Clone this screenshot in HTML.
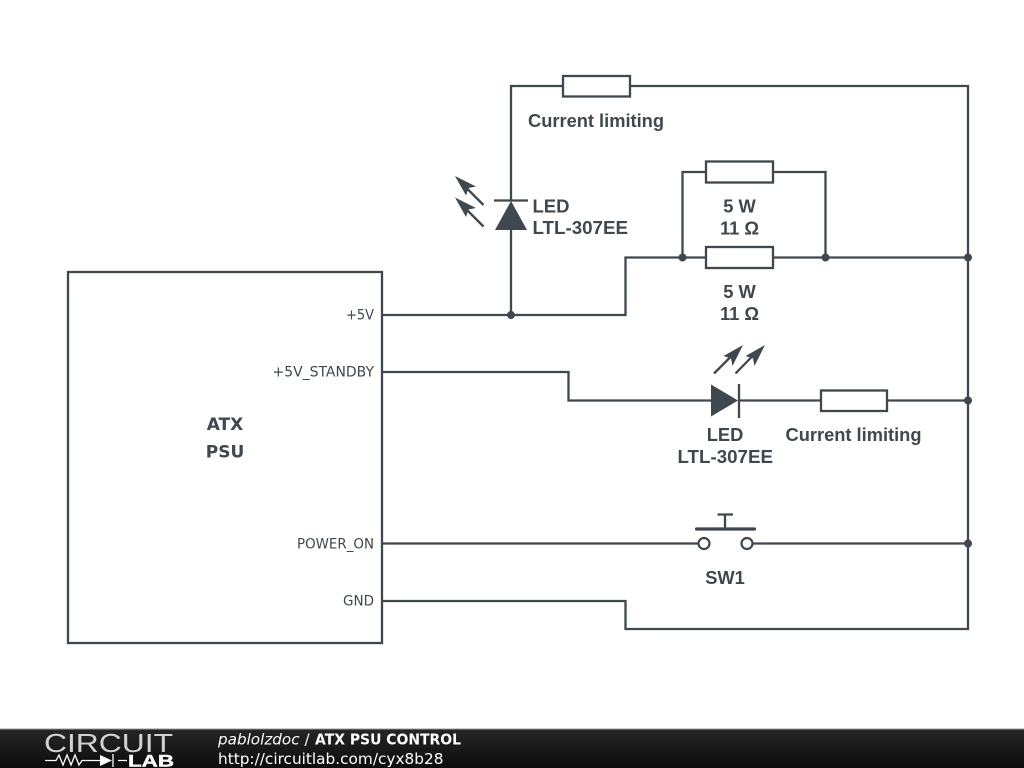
<!DOCTYPE html>
<html>
<head>
<meta charset="utf-8">
<style>
html,body{margin:0;padding:0;background:#fff;width:1024px;height:768px;overflow:hidden}
svg{display:block}
.w{fill:none;stroke:#3e484e;stroke-width:2.3}
.f{fill:#3e484e;stroke:none}
.l{font-family:"Liberation Sans",sans-serif;font-weight:700;font-size:18.300px;fill:#3e484e}
.p{font-family:"DejaVu Sans",sans-serif;font-size:14px;fill:#3e484e}
.a{font-family:"DejaVu Sans",sans-serif;font-weight:700;font-size:17px;fill:#3e484e}
.t{font-family:"DejaVu Sans",sans-serif;font-size:15.200px;fill:#fff}
</style>
</head>
<body>
<svg width="1024" height="768" viewBox="0 0 1024 768" xmlns="http://www.w3.org/2000/svg">
<defs>
<linearGradient id="g" x1="0" y1="0" x2="0" y2="1"><stop offset="0" stop-color="#262626"/><stop offset="1" stop-color="#0c0c0c"/></linearGradient>
</defs>
<rect width="1024" height="768" fill="#fff"/>
<rect class="w" x="68" y="272" width="314" height="371"/>
<path class="w" d="M511 200V86H563M630 86H968V629H625.500V601H382"/>
<rect class="w" x="563" y="76" width="67" height="20.500"/>
<path class="w" d="M382 315H625.500V257.500H706M773 257.500H968M682.500 257.500V172H706M773 172H825.500V257.500"/>
<rect class="w" x="706" y="161.500" width="67" height="21"/>
<rect class="w" x="706" y="247" width="67" height="21"/>
<path class="w" d="M511 230V315M494 200.500H528"/>
<polygon class="f" points="511,201 527,230 495,230"/>
<path class="w" d="M483.500 205L466 187.500M483.500 226.500L466 209"/>
<polygon class="f" points="455,176 476,186.500 468.500,188 466,195.500"/>
<polygon class="f" points="455,197.500 476,208 468.500,209.500 466,217"/>
<path class="w" d="M382 372H568.500V400.500H712M739 384V418M739 400.500H821M887 400.500H968"/>
<rect class="w" x="821" y="390.500" width="66" height="20.500"/>
<polygon class="f" points="711,384.500 738,400.500 711,416.500"/>
<path class="w" d="M714 373.500L733 354.500M735.500 373.500L754 354.500"/>
<polygon class="f" points="743,345 732.500,366 731,358.500 723.500,356"/>
<polygon class="f" points="765,345 754.500,366 753,358.500 745.500,356"/>
<path class="w" d="M382 543.500H698.500M752.500 543.500H968"/>
<circle cx="704" cy="543.500" r="5.500" fill="#fff" stroke="#3e484e" stroke-width="2.200"/>
<circle cx="747" cy="543.500" r="5.500" fill="#fff" stroke="#3e484e" stroke-width="2.200"/>
<path d="M696.500 529H754.500" fill="none" stroke="#3e484e" stroke-width="3.200" stroke-linecap="round"/>
<path class="w" d="M725 528V514.500M717.500 514.500H733"/>
<circle class="f" cx="511" cy="315" r="4"/>
<circle class="f" cx="682.500" cy="257.500" r="4"/>
<circle class="f" cx="825.500" cy="257.500" r="4"/>
<circle class="f" cx="968" cy="257.500" r="4"/>
<circle class="f" cx="968" cy="400.500" r="4"/>
<circle class="f" cx="968" cy="543.500" r="4"/>
<text class="l" x="528" y="127" textLength="136" lengthAdjust="spacingAndGlyphs">Current limiting</text>
<text class="l" x="532.500" y="212.500" textLength="37" lengthAdjust="spacingAndGlyphs">LED</text>
<text class="l" x="532.500" y="234" textLength="95.500" lengthAdjust="spacingAndGlyphs">LTL-307EE</text>
<text class="l" x="739.500" y="212.500" text-anchor="middle">5 W</text>
<text class="l" x="739.500" y="234.500" text-anchor="middle">11 Ω</text>
<text class="l" x="739.500" y="298" text-anchor="middle">5 W</text>
<text class="l" x="739.500" y="320" text-anchor="middle">11 Ω</text>
<text class="l" x="725" y="441" text-anchor="middle">LED</text>
<text class="l" x="677.500" y="463" textLength="95.500" lengthAdjust="spacingAndGlyphs">LTL-307EE</text>
<text class="l" x="785.500" y="441" textLength="136" lengthAdjust="spacingAndGlyphs">Current limiting</text>
<text class="l" x="725" y="584" text-anchor="middle">SW1</text>
<text class="p" x="346" y="319.500" textLength="28" lengthAdjust="spacingAndGlyphs">+5V</text>
<text class="p" x="272.500" y="376.500" textLength="101.500" lengthAdjust="spacingAndGlyphs">+5V_STANDBY</text>
<text class="p" x="297" y="548.500" textLength="77" lengthAdjust="spacingAndGlyphs">POWER_ON</text>
<text class="p" x="343" y="605.500" textLength="31" lengthAdjust="spacingAndGlyphs">GND</text>
<text class="a" x="225" y="430" text-anchor="middle">ATX</text>
<text class="a" x="225" y="457.500" text-anchor="middle">PSU</text>
<rect x="0" y="729" width="1024" height="39" fill="url(#g)"/>
<rect x="0" y="728.500" width="1024" height="1" fill="#999"/>
<text x="44" y="752" font-family="'Liberation Sans',sans-serif" font-size="26" fill="#fff" fill-opacity="0.8" textLength="129" lengthAdjust="spacingAndGlyphs">CIRCUIT</text>
<path d="M45 760.500H56L59 755L63 765L67 755L71 765L75 755L79 765L82 760.500H100M127 760.500H118M113 754V767" fill="none" stroke="#fff" stroke-width="1.300"/>
<polygon points="100,755 112,760.500 100,766" fill="#fff"/>
<text x="128" y="766.500" font-family="'Liberation Sans',sans-serif" font-weight="700" font-size="16.500" fill="#fff" stroke="#fff" stroke-width="0.400" textLength="46" lengthAdjust="spacingAndGlyphs">LAB</text>
<text class="t" x="218" y="744.500" font-style="italic">pablolzdoc</text>
<text class="t" x="304.500" y="744.500">/</text>
<text class="t" x="315" y="744.500" font-weight="700" textLength="146" lengthAdjust="spacingAndGlyphs">ATX PSU CONTROL</text>
<text class="t" x="218" y="764" textLength="225.500" lengthAdjust="spacingAndGlyphs">http://circuitlab.com/cyx8b28</text>
</svg>
</body>
</html>
